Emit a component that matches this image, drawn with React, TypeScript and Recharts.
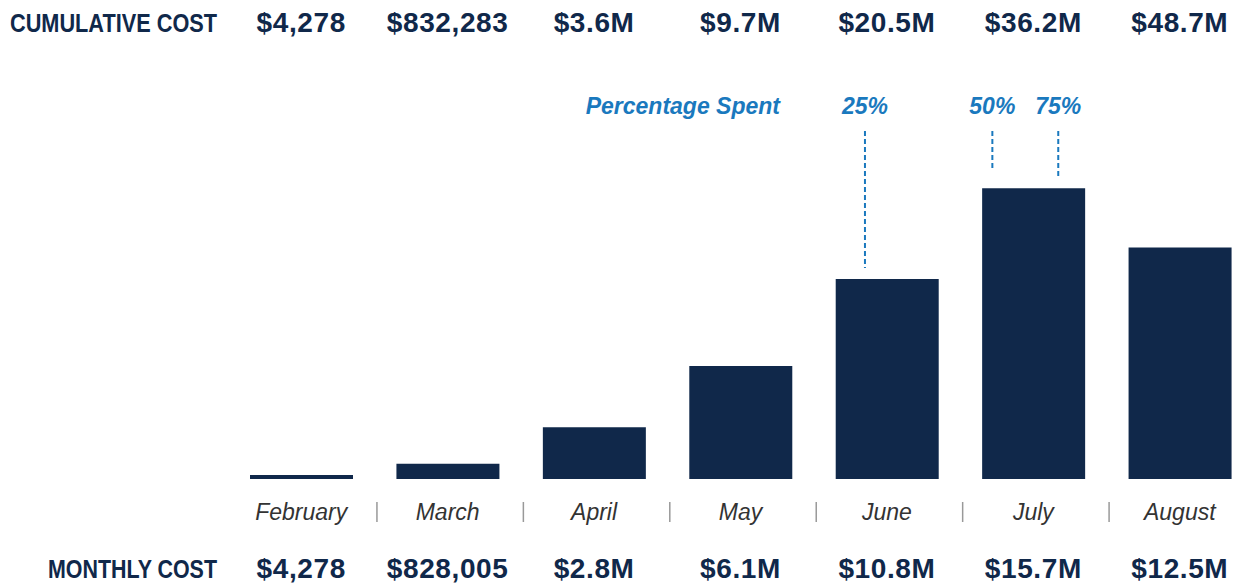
import { BarChart, Bar, XAxis, YAxis, ReferenceLine } from "recharts";

const months = ["February", "March", "April", "May", "June", "July", "August"];
const monthlyCost = [4278, 828005, 2.8e6, 6.1e6, 10.8e6, 15.7e6, 12.5e6];
const monthlyLabels = ["$4,278", "$828,005", "$2.8M", "$6.1M", "$10.8M", "$15.7M", "$12.5M"];
const cumulativeLabels = ["$4,278", "$832,283", "$3.6M", "$9.7M", "$20.5M", "$36.2M", "$48.7M"];

// percentage-spent markers, positioned in month-index units
const pctLabels = ["25%", "50%", "75%"];
const pctPositions = [3.85, 4.72, 5.17];
const pctLineEnds = [11.4e6, 16.7e6, 16.3e6];
const pctLineTop = 18.8e6;

const NAVY = "#10284a";
const BLUE = "#1a79be";
const NUM_FONT = "'Liberation Sans', Arial, sans-serif";

const data = months.map((m, i) => ({ idx: i, month: m, monthly: monthlyCost[i] }));

const MonthTick = ({ x, payload }: any) => {
  const i = payload.value as number;
  return (
    <g>
      <text x={x} y={32} textAnchor="middle" fill={NAVY} fontFamily={NUM_FONT}
        fontWeight="bold" fontSize={28} letterSpacing={0.6}>
        {cumulativeLabels[i]}
      </text>
      <text x={x} y={520} textAnchor="middle" fill="#333" fontFamily={NUM_FONT}
        fontStyle="italic" fontSize={23}>
        {months[i]}
      </text>
      <text x={x} y={578} textAnchor="middle" fill={NAVY} fontFamily={NUM_FONT}
        fontWeight="bold" fontSize={28} letterSpacing={0.6}>
        {monthlyLabels[i]}
      </text>
      {i > 0 && (
        <line x1={x - 70.7} x2={x - 70.7} y1={502} y2={522} stroke="#999" strokeWidth={1.5} />
      )}
    </g>
  );
};

export default function App() {
  return (
    <div style={{ position: "absolute", left: 0, top: 0, width: 1233, height: 584, overflow: "hidden", background: "#fff" }}>
      <BarChart width={1253} height={584} data={data}
        margin={{ top: 81, right: 0, left: 228, bottom: 75 }}>
        <XAxis dataKey="idx" type="number" domain={[-0.5, 6.5]} ticks={[0, 1, 2, 3, 4, 5, 6]}
          axisLine={false} tickLine={false} height={30} tick={<MonthTick />} />
        <YAxis hide domain={[0, 21.5e6]} />
        <Bar dataKey="monthly" fill={NAVY} barSize={103} minPointSize={4} isAnimationActive={false} />
        {pctLabels.map((lab, k) => (
          <ReferenceLine key={lab}
            segment={[{ x: pctPositions[k], y: pctLineTop }, { x: pctPositions[k], y: pctLineEnds[k] }]}
            stroke={BLUE} strokeWidth={2} strokeDasharray="5 3"
            label={{ value: lab, position: "top", offset: 17, fill: BLUE, fontSize: 23,
              fontWeight: "bold", fontStyle: "italic", fontFamily: NUM_FONT }} />
        ))}
      </BarChart>
      <svg width={1233} height={584} style={{ position: "absolute", left: 0, top: 0, pointerEvents: "none" }}>
        <text x={217} y={32} textAnchor="end" fill={NAVY} fontFamily={NUM_FONT} fontWeight="bold" fontSize={25}
          textLength={207} lengthAdjust="spacingAndGlyphs">
          CUMULATIVE COST
        </text>
        <text x={217} y={578} textAnchor="end" fill={NAVY} fontFamily={NUM_FONT} fontWeight="bold" fontSize={25}
          textLength={169} lengthAdjust="spacingAndGlyphs">
          MONTHLY COST
        </text>
        <text x={780} y={114} textAnchor="end" fill={BLUE} fontFamily={NUM_FONT} fontWeight="bold"
          fontStyle="italic" fontSize={23}>
          Percentage Spent
        </text>
      </svg>
    </div>
  );
}
